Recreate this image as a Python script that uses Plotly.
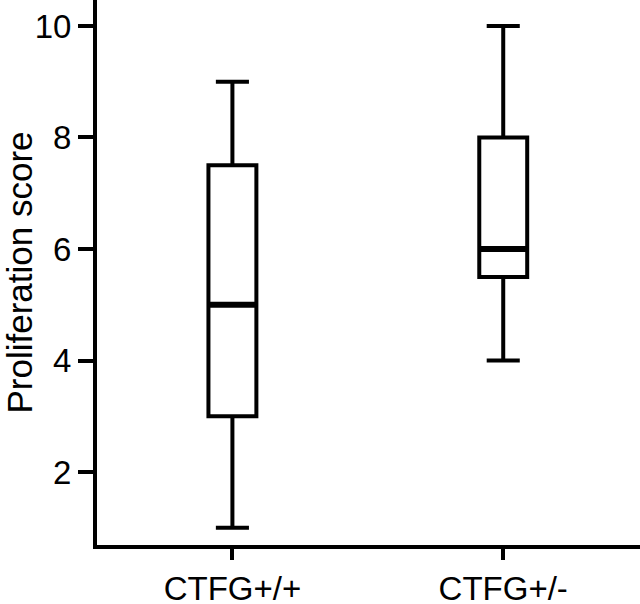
import plotly.graph_objects as go

# Summary statistics
groups = ["CTFG+/+", "CTFG+/-"]
lower_whisker = [1, 4]
q1 = [3, 5.5]
median = [5, 6]
q3 = [7.5, 8]
upper_whisker = [9, 10]

FONT = "Liberation Sans, Arial, sans-serif"

fig = go.Figure()

fig.add_trace(
    go.Box(
        x=groups,
        q1=q1,
        median=median,
        q3=q3,
        lowerfence=lower_whisker,
        upperfence=upper_whisker,
        boxpoints=False,
        width=0.177,
        whiskerwidth=0.69,
        fillcolor="white",
        line=dict(color="black", width=4),
        hoverinfo="y",
    )
)

# thicker median bar on top of each box
fig.add_trace(
    go.Scatter(
        x=groups,
        y=median,
        mode="markers",
        marker=dict(symbol="line-ew", size=34, line=dict(color="black", width=6)),
        hoverinfo="skip",
    )
)

fig.update_layout(
    width=640,
    height=604,
    showlegend=False,
    plot_bgcolor="white",
    paper_bgcolor="white",
    margin=dict(l=97, r=0, t=0, b=59),
    font=dict(family=FONT, size=33, color="black"),
)

fig.update_xaxes(
    range=[-0.5, 1.505],
    automargin=False,
    showgrid=False,
    zeroline=False,
    showline=True,
    linecolor="black",
    linewidth=4,
    ticks="outside",
    ticklen=11,
    tickwidth=4,
    tickcolor="black",
    tickfont=dict(size=33),
)

fig.update_yaxes(
    range=[0.691, 10.466],
    tickvals=[2, 4, 6, 8, 10],
    automargin=False,
    showgrid=False,
    zeroline=False,
    showline=True,
    linecolor="black",
    linewidth=4,
    ticks="outside",
    ticklen=15,
    tickwidth=4,
    tickcolor="black",
    tickfont=dict(size=33),
    title=dict(text="Proliferation score", font=dict(size=35), standoff=0),
)

# drop the default body margin so the figure sits at the page corner
fig.write_html(
    "out.html",
    config={"displayModeBar": False},
    post_script="document.body.style.margin='0';",
)
